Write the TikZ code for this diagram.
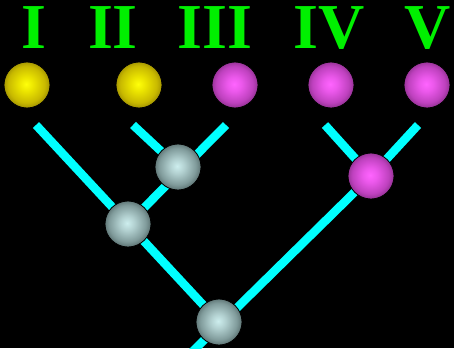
\documentclass[tikz,border=0pt]{standalone}
\usepackage{fontspec}
\setmainfont{Liberation Serif}
\definecolor{numgreen}{RGB}{0,240,0}
\definecolor{edgecyan}{RGB}{0,255,255}
\definecolor{yc0}{RGB}{255,255,10}
\definecolor{yc1}{RGB}{235,228,0}
\definecolor{yc2}{RGB}{200,185,0}
\definecolor{yc3}{RGB}{165,150,0}
\definecolor{mc0}{RGB}{255,100,255}
\definecolor{mc1}{RGB}{235,88,235}
\definecolor{mc2}{RGB}{190,65,190}
\definecolor{mc3}{RGB}{150,50,150}
\definecolor{gc0}{RGB}{205,238,238}
\definecolor{gc1}{RGB}{178,208,208}
\definecolor{gc2}{RGB}{128,155,155}
\definecolor{gc3}{RGB}{95,118,118}
\pgfdeclareradialshading{yellowball}{\pgfpoint{-1bp}{1bp}}{color(0bp)=(yc0); color(8bp)=(yc1); color(20bp)=(yc2); color(25bp)=(yc3); color(50bp)=(yc3)}
\pgfdeclareradialshading{magentaball}{\pgfpoint{-1bp}{1bp}}{color(0bp)=(mc0); color(8bp)=(mc1); color(20bp)=(mc2); color(25bp)=(mc3); color(50bp)=(mc3)}
\pgfdeclareradialshading{grayball}{\pgfpoint{-1bp}{1bp}}{color(0bp)=(gc0); color(8bp)=(gc1); color(20bp)=(gc2); color(25bp)=(gc3); color(50bp)=(gc3)}
\tikzset{
  ballnode/.style={circle, minimum size=46pt, inner sep=0pt, draw=black, line width=0.8pt},
  yball/.style={ballnode, shading=yellowball},
  mball/.style={ballnode, shading=magentaball},
  gball/.style={ballnode, shading=grayball},
  edgeline/.style={draw=edgecyan, line width=8.5pt, line cap=butt},
  numlabel/.style={text=numgreen, font=\fontsize{64}{64}\selectfont\bfseries, anchor=base, inner sep=0pt}
}
\begin{document}
\begin{tikzpicture}[x=1pt,y=-1pt]
\fill[black] (0,0) rectangle (454,348);
\useasboundingbox (0,0) rectangle (454,348);
% labels
\node[numlabel] (n1) at (34,48) {I};
\node[numlabel] (n2) at (113,48) {II};
\node[numlabel] (n3) at (215,48) {III};
\node[numlabel] (n4) at (329,48) {IV};
\node[numlabel] (n5) at (428,48) {V};
% leaf balls
\node[yball] (l1) at (27,85) {};
\node[yball] (l2) at (139,85) {};
\node[mball] (l3) at (235,85) {};
\node[mball] (l4) at (331,85) {};
\node[mball] (l5) at (427,85) {};
% edge endpoints
\coordinate (t1) at (36,125);
\coordinate (t2) at (133,125);
\coordinate (t3) at (226,125);
\coordinate (t4) at (325,125);
\coordinate (t5) at (418,125);
\coordinate (a) at (178,167);
\coordinate (b) at (128,224);
\coordinate (c) at (219,322);
\coordinate (d) at (371,176);
\coordinate (e) at (192,352);
% edges
\draw[edgeline] (t1) -- (c);
\draw[edgeline] (t2) -- (a);
\draw[edgeline] (t3) -- (b);
\draw[edgeline] (t4) -- (d);
\draw[edgeline] (t5) -- (d);
\draw[edgeline] (d) -- (e);
% internal balls
\node[gball] (na) at (a) {};
\node[gball] (nb) at (b) {};
\node[gball] (nc) at (c) {};
\node[mball] (nd) at (d) {};
\end{tikzpicture}
\end{document}
